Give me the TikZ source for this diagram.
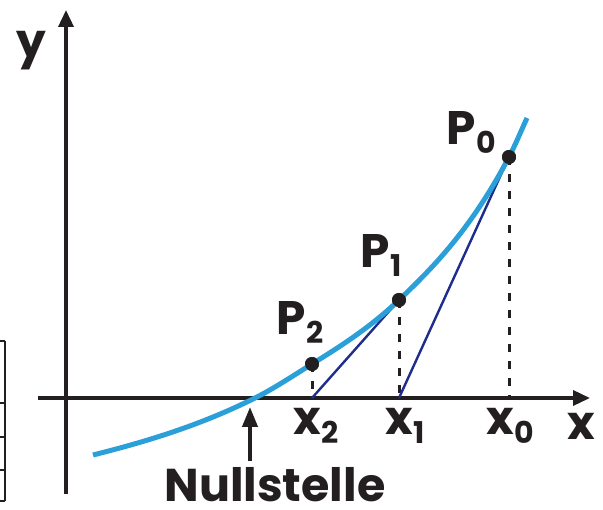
\documentclass[tikz,border=0pt]{standalone}
\usepackage{fontspec}
\setmainfont{Poppins}
\usetikzlibrary{arrows.meta}
\definecolor{ink}{HTML}{231F20}
\definecolor{curveblue}{HTML}{2A9FD8}
\definecolor{tanblue}{HTML}{1E2D8C}
\newcommand\sublbl[2]{#1\kern0.5pt\raisebox{-9pt}{\fontsize{30}{30}\selectfont #2}}
\tikzset{
  axis/.style={line width=3.5pt, draw=ink, -{Triangle[length=17pt,width=15pt]}},
  graph/.style={line width=5pt, draw=curveblue},
  tangent/.style={line width=2.4pt, draw=tanblue},
  drop/.style={line width=3pt, draw=ink, dash pattern=on 8pt off 9pt},
  dot/.style={circle, fill=ink, inner sep=0pt, minimum size=14pt},
  lbl/.style={font=\bfseries\fontsize{47}{50}\selectfont, text=ink, inner sep=0pt, anchor=base west},
  framel/.style={line width=1.2pt, draw=ink}
}
\begin{document}
\begin{tikzpicture}[x=1pt,y=-1pt]
\useasboundingbox (0,0) rectangle (603,510);
% left edge fragment
\draw[framel] (5,341) -- (5,501);
\foreach \yy in {341,403,437,470,501} \draw[framel] (0,\yy) -- (5,\yy);
% axes
\coordinate (xs) at (38,398);
\coordinate (xe) at (590,398);
\coordinate (ys) at (66,494);
\coordinate (ye) at (66,10);
\draw[axis] (xs) -- (xe);
\draw[axis] (ys) -- (ye);
% axis points
\coordinate (X0) at (509,398);
\coordinate (X1) at (399,398);
\coordinate (X2) at (312,398);
% points
\node[dot] (P0) at (509,157) {};
\node[dot] (P1) at (399,300) {};
\node[dot] (P2) at (312,364) {};
% drops
\draw[drop] (P0.center) -- (X0);
\draw[drop] (P1.center) -- (X1);
\draw[drop] (P2.center) -- (X2);
% tangents
\draw[tangent] (P0.center) -- (X1);
\draw[tangent] (P1.center) -- (X2);
% curve
\draw[graph] (93,455) .. controls (147,441.5) and (201,425) .. (255,398)
  .. controls (274,388.5) and (293,375.8) .. (312,364)
  .. controls (341,346) and (370,327.55) .. (399,300)
  .. controls (435.67,265.2) and (472.33,226.7) .. (509,157)
  .. controls (515,145.6) and (521,131.2) .. (527,118);
% redraw dots on top
\fill[ink] (P0.center) circle (7pt);
\fill[ink] (P1.center) circle (7pt);
\fill[ink] (P2.center) circle (7pt);
% Nullstelle arrow
\coordinate (ns) at (250,461);
\coordinate (nt) at (250,407);
\draw[line width=4pt, draw=ink, -{Triangle[length=20pt,width=15pt]}] (ns) -- (nt);
% labels
\node[lbl] (ly) at (16,58) {y};
\node[lbl] (lx) at (567,440) {x};
\node[lbl] (lP0) at (446,145) {\sublbl{P}{0}};
\node[lbl] (lP1) at (360,268) {\sublbl{P}{1}};
\node[lbl] (lP2) at (276,335) {\sublbl{P}{2}};
\node[lbl] (lx2) at (293,435) {\sublbl{x}{2}};
\node[lbl] (lx1) at (385,435) {\sublbl{x}{1}};
\node[lbl] (lx0) at (486,435) {\sublbl{x}{0}};
\node[lbl, anchor=base, font=\bfseries\fontsize{46}{48}\selectfont] (lns) at (275,502) {Nullstelle};
\end{tikzpicture}
\end{document}
